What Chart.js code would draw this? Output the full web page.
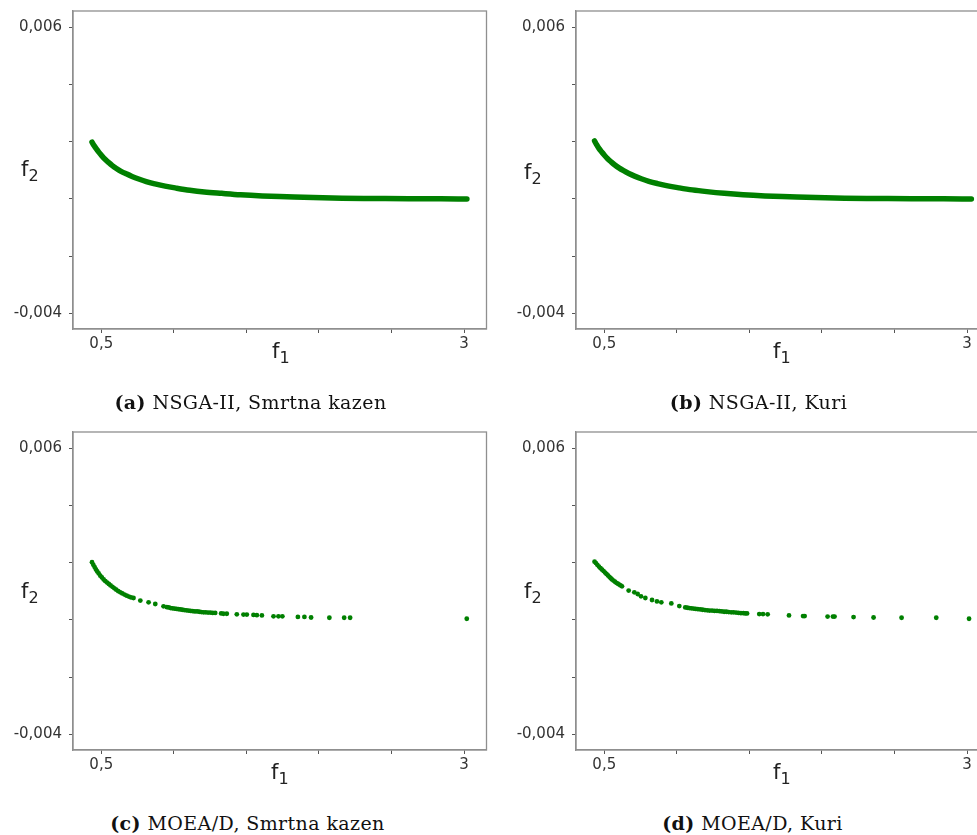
<!DOCTYPE html>
<html lang="hr">
<head>
<meta charset="UTF-8">
<title>Pareto fronte: NSGA-II i MOEA/D</title>
<script src="https://cdn.jsdelivr.net/npm/chart.js"></script>
<style>
    html, body { margin: 0; padding: 0; width: 977px; height: 835px; overflow: hidden; background: #fff; }
    canvas.panel { position: absolute; }
    .ax { position: absolute; font-family: 'DejaVu Sans', sans-serif; font-size: 21px; line-height: 21px; color: #222; white-space: nowrap; }
    .ax sub { font-size: 16px; vertical-align: -5px; line-height: 0; }
    .cap { position: absolute; width: 491px; text-align: center; font-family: 'DejaVu Serif', serif; font-size: 19px; letter-spacing: 0.4px; line-height: 22px; color: #111; white-space: nowrap; }
</style>
</head>
<body>
<canvas id="chartA" class="panel" width="491" height="380" style="left:0px;top:0px"></canvas>
<canvas id="chartB" class="panel" width="491" height="380" style="left:503px;top:0px"></canvas>
<canvas id="chartC" class="panel" width="491" height="380" style="left:0px;top:421px"></canvas>
<canvas id="chartD" class="panel" width="491" height="380" style="left:503px;top:421px"></canvas>

<span class="ax" style="left:21px;top:159px">f<sub>2</sub></span>
<span class="ax" style="left:272px;top:341px">f<sub>1</sub></span>
<span class="ax" style="left:524px;top:162px">f<sub>2</sub></span>
<span class="ax" style="left:773px;top:341px">f<sub>1</sub></span>
<span class="ax" style="left:21px;top:581px">f<sub>2</sub></span>
<span class="ax" style="left:271px;top:762px">f<sub>1</sub></span>
<span class="ax" style="left:524px;top:581px">f<sub>2</sub></span>
<span class="ax" style="left:773px;top:762px">f<sub>1</sub></span>

<div class="cap" style="left:5px;top:391px"><b>(a)</b> NSGA-II, Smrtna kazen</div>
<div class="cap" style="left:513px;top:391px"><b>(b)</b> NSGA-II, Kuri</div>
<div class="cap" style="left:2px;top:812px"><b>(c)</b> MOEA/D, Smrtna kazen</div>
<div class="cap" style="left:507px;top:812px"><b>(d)</b> MOEA/D, Kuri</div>

<script>
// osi
const xTickValues = [0.5, 1, 1.5, 2, 2.5, 3];
const xTickLabels = ['0,5', '', '', '', '', '3'];
const yTickValues = [-0.004, -0.002, 0, 0.002, 0.004, 0.006];
const yTickLabels = ['-0,004', '', '', '', '', '0,006'];

// NSGA-II, smrtna kazen
const nsgaSmrtnaF1 = [0.436, 0.450, 0.466, 0.484, 0.504, 0.526, 0.550, 0.576, 0.604, 0.636,
    0.672, 0.712, 0.758, 0.810, 0.870, 0.940, 1.020, 1.110, 1.210, 1.330,
    1.460, 1.610, 1.780, 1.960, 2.160, 2.380, 2.620, 2.840, 3.020];
const nsgaSmrtnaF2 = [0.00198, 0.00186, 0.00174, 0.00162, 0.00150, 0.00138, 0.00127, 0.00116, 0.00106, 0.00096,
    0.00087, 0.00078, 0.00069, 0.00060, 0.00052, 0.00044, 0.00037, 0.00030, 0.00024, 0.00019,
    0.00014, 0.00010, 0.00007, 0.00004, 0.00002, 0.00001, 0.00000, 0.00000, -0.00001];

// NSGA-II, kuri
const nsgaKuriF1 = [0.433, 0.447, 0.463, 0.481, 0.501, 0.523, 0.547, 0.573, 0.601, 0.633,
    0.669, 0.709, 0.755, 0.807, 0.867, 0.937, 1.017, 1.107, 1.207, 1.327,
    1.457, 1.607, 1.777, 1.957, 2.157, 2.377, 2.617, 2.837, 3.030];
const nsgaKuriF2 = [0.00202, 0.00189, 0.00176, 0.00164, 0.00152, 0.00140, 0.00129, 0.00118, 0.00108, 0.00098,
    0.00088, 0.00079, 0.00070, 0.00061, 0.00053, 0.00045, 0.00038, 0.00031, 0.00025, 0.00019,
    0.00014, 0.00010, 0.00007, 0.00004, 0.00002, 0.00001, 0.00000, 0.00000, -0.00001];

// MOEA/D, smrtna kazen
const moeadSmrtnaF1 = [0.436, 0.445, 0.454, 0.463, 0.472, 0.482, 0.493, 0.504, 0.516, 0.528,
    0.540, 0.552, 0.564, 0.577, 0.590, 0.603, 0.617, 0.631, 0.645, 0.660,
    0.675, 0.690, 0.705, 0.722, 0.769, 0.826, 0.872, 0.929, 0.952, 0.965,
    0.978, 0.991, 1.004, 1.018, 1.031, 1.044, 1.058, 1.072, 1.086, 1.100,
    1.115, 1.130, 1.145, 1.160, 1.175, 1.190, 1.205, 1.220, 1.236, 1.252,
    1.268, 1.285, 1.326, 1.342, 1.365, 1.434, 1.480, 1.503, 1.549, 1.572,
    1.607, 1.687, 1.721, 1.748, 1.855, 1.900, 1.946, 2.072, 2.174, 2.215,
    3.019];
const moeadSmrtnaF2 = [0.00201, 0.00192, 0.00184, 0.00176, 0.00169, 0.00162, 0.00154, 0.00148, 0.00141, 0.00135,
    0.00130, 0.00125, 0.00120, 0.00115, 0.00110, 0.00105, 0.00100, 0.00096, 0.00092, 0.00088,
    0.00084, 0.00081, 0.00078, 0.00076, 0.00067, 0.00061, 0.00055, 0.00047, 0.00044, 0.00043,
    0.00041, 0.00040, 0.00039, 0.00038, 0.00037, 0.00036, 0.00035, 0.00034, 0.00033, 0.00032,
    0.00031, 0.00030, 0.00029, 0.00029, 0.00028, 0.00027, 0.00026, 0.00026, 0.00025, 0.00025,
    0.00024, 0.00024, 0.00022, 0.00021, 0.00021, 0.00019, 0.00018, 0.00018, 0.00017, 0.00016,
    0.00015, 0.00012, 0.00012, 0.00012, 0.00010, 0.00010, 0.00008, 0.00007, 0.00007, 0.00007,
    0.000035];

// MOEA/D, kuri
const moeadKuriF1 = [0.433, 0.442, 0.452, 0.463, 0.474, 0.485, 0.495, 0.505, 0.515, 0.525,
    0.535, 0.544, 0.553, 0.563, 0.573, 0.583, 0.593, 0.603, 0.612, 0.622,
    0.668, 0.707, 0.730, 0.753, 0.783, 0.829, 0.863, 0.893, 0.962, 1.017,
    1.058, 1.072, 1.086, 1.100, 1.115, 1.130, 1.145, 1.162, 1.178, 1.194,
    1.210, 1.226, 1.243, 1.260, 1.277, 1.294, 1.310, 1.326, 1.342, 1.358,
    1.375, 1.391, 1.408, 1.425, 1.442, 1.459, 1.472, 1.484, 1.568, 1.594,
    1.626, 1.773, 1.870, 1.881, 2.039, 2.076, 2.087, 2.218, 2.356, 2.549,
    2.788, 3.014];
const moeadKuriF2 = [0.00203, 0.00198, 0.00192, 0.00186, 0.00180, 0.00175, 0.00170, 0.00165, 0.00160, 0.00155,
    0.00150, 0.00145, 0.00141, 0.00137, 0.00133, 0.00129, 0.00126, 0.00123, 0.00120, 0.00117,
    0.00102, 0.00096, 0.00090, 0.00082, 0.00076, 0.00069, 0.00064, 0.00061, 0.00057, 0.00048,
    0.00043, 0.00042, 0.00041, 0.00040, 0.00039, 0.00038, 0.00037, 0.00036, 0.00035, 0.00034,
    0.00033, 0.00032, 0.00032, 0.00031, 0.00031, 0.00030, 0.00029, 0.00028, 0.00028, 0.00027,
    0.00026, 0.00026, 0.00025, 0.00024, 0.00023, 0.00023, 0.00022, 0.00022, 0.00020, 0.00020,
    0.00019, 0.00015, 0.00013, 0.00013, 0.00011, 0.00011, 0.00011, 0.000095, 0.00008, 0.00007,
    0.00007, 0.000035];

const green = '#008000';
const frameColor = '#8f8f8f';

// okvir oko područja crtanja (gore i desno nema osi)
const framePlugin = {
    id: 'frame',
    afterDraw(chart) {
        const { ctx, chartArea: a } = chart;
        ctx.save();
        ctx.strokeStyle = frameColor;
        ctx.lineWidth = 1.3;
        ctx.strokeRect(a.left, a.top, a.right - a.left, a.bottom - a.top);
        ctx.restore();
    }
};

function toPoints(f1, f2) {
    return f1.map((x, i) => ({ x: x, y: f2[i] }));
}

function makePanel(id, f1, f2, asLine) {
    const dataset = asLine ? {
        data: toPoints(f1, f2),
        showLine: true,
        borderColor: green,
        borderWidth: 5.5,
        borderCapStyle: 'round',
        borderJoinStyle: 'round',
        cubicInterpolationMode: 'monotone',
        pointRadius: 0
    } : {
        data: toPoints(f1, f2),
        showLine: false,
        backgroundColor: green,
        pointRadius: 2.4,
        pointBorderWidth: 0
    };

    new Chart(document.getElementById(id).getContext('2d'), {
        type: 'scatter',
        data: { datasets: [dataset] },
        options: {
            responsive: false,
            animation: false,
            layout: { padding: { left: 0, top: 11, right: 4.5, bottom: 0 } },
            plugins: { legend: { display: false }, tooltip: { enabled: false } },
            scales: {
                x: {
                    min: 0.305,
                    max: 3.155,
                    afterBuildTicks: s => { s.ticks = xTickValues.map(v => ({ value: v })); },
                    afterFit: s => { s.height = 51; s.paddingLeft = 0; s.paddingRight = 0; },
                    ticks: {
                        autoSkip: false,
                        maxRotation: 0,
                        padding: 2,
                        color: '#333',
                        font: { family: 'DejaVu Sans', size: 15 },
                        callback: (v, i) => xTickLabels[i]
                    },
                    grid: { drawOnChartArea: false, drawTicks: true, tickLength: 4, color: '#555' },
                    border: { color: frameColor, width: 1.3 }
                },
                y: {
                    min: -0.00455,
                    max: 0.00656,
                    afterBuildTicks: s => { s.ticks = yTickValues.map(v => ({ value: v })); },
                    // the labels sit well inside the range, so no extra room above or below
                    afterFit: s => { s.width = 73; s.paddingTop = 0; s.paddingBottom = 0; },
                    ticks: {
                        autoSkip: false,
                        padding: 7,
                        color: '#333',
                        font: { family: 'DejaVu Sans', size: 15 },
                        callback: (v, i) => yTickLabels[i]
                    },
                    grid: { drawOnChartArea: false, drawTicks: true, tickLength: 4, color: '#555' },
                    border: { color: frameColor, width: 1.3 }
                }
            }
        },
        plugins: [framePlugin]
    });
}

makePanel('chartA', nsgaSmrtnaF1, nsgaSmrtnaF2, true);
makePanel('chartB', nsgaKuriF1, nsgaKuriF2, true);
makePanel('chartC', moeadSmrtnaF1, moeadSmrtnaF2, false);
makePanel('chartD', moeadKuriF1, moeadKuriF2, false);
</script>
</body>
</html>
